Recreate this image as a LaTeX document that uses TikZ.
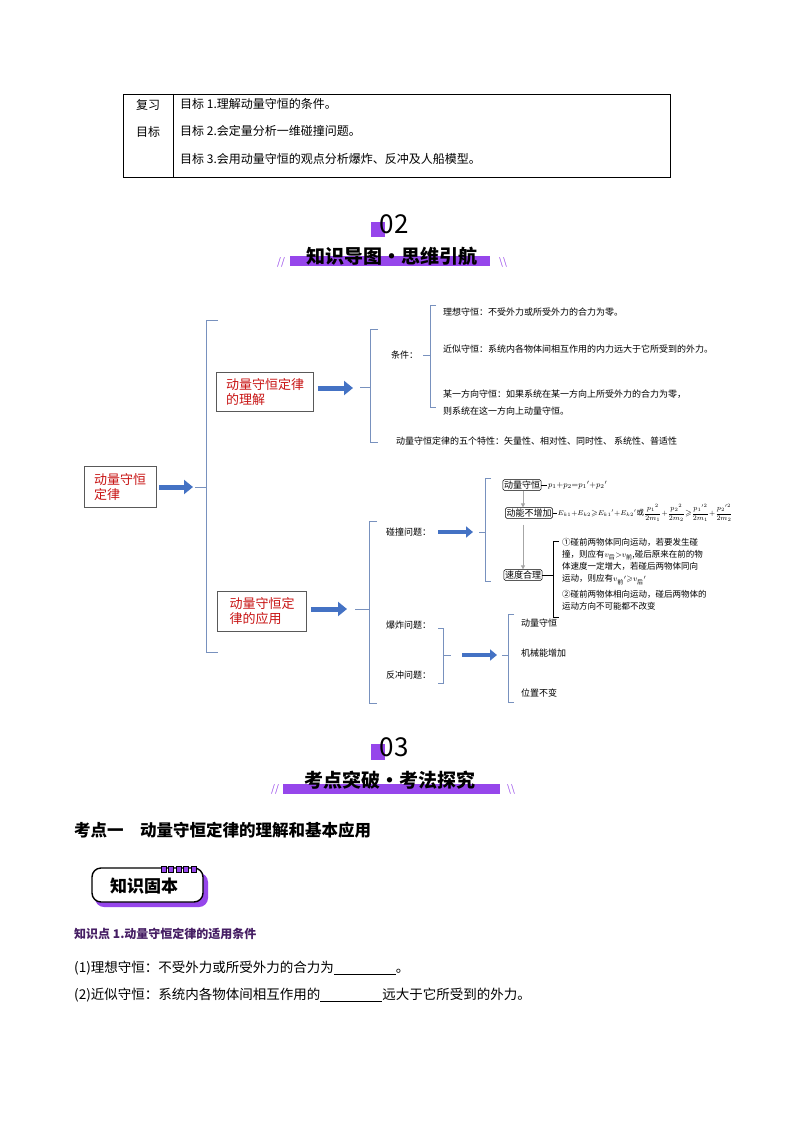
\documentclass[tikz,border=0pt]{standalone}
\usepackage{amsmath,amssymb}
\usepackage{fontspec}
\setmainfont{Noto Sans CJK SC}
\newfontfamily\cjkb{Noto Sans CJK SC Black}
\usetikzlibrary{arrows.meta,positioning}
\definecolor{brkblue}{RGB}{120,145,190}
\definecolor{arrblue}{RGB}{68,114,196}
\definecolor{vio}{RGB}{150,70,235}
\definecolor{darkvio}{RGB}{70,30,100}
\definecolor{redtxt}{RGB}{200,20,20}
\tikzset{
  brk/.style={draw=brkblue, line width=0.8pt},
  bigarrow/.style={draw=arrblue, line width=5pt, -{Triangle[length=9pt,width=14pt]}},
  grayarrow/.style={draw=gray!70, line width=0.8pt, -{Triangle[length=4pt,width=4pt]}},
  topicbox/.style={draw=gray!70!black, line width=0.6pt, fill=white, text=redtxt, font=\fontsize{13}{15}\selectfont, align=left, inner sep=3pt},
  smallbox/.style={draw=black, rounded corners=1.5pt, line width=0.5pt, font=\fontsize{9}{10}\selectfont, inner sep=1.2pt},
  note/.style={anchor=west, font=\fontsize{9}{11}\selectfont, inner sep=0pt},
  bodytxt/.style={anchor=west, font=\fontsize{12}{14}\selectfont, inner sep=0pt},
}
\begin{document}
\begin{tikzpicture}[x=1pt, y=-1pt]
\useasboundingbox[fill=white] (0,0) rectangle (794,1123);
% goals table
\draw[line width=0.7pt] (123,94) rectangle (670,177);
\draw[line width=0.7pt] (173,94) -- (173,177);
\node[bodytxt, anchor=center] (fx) at (148,105) {复习};
\node[bodytxt, anchor=center] (mb) at (148,132) {目标};
\node[bodytxt] (g1) at (180,104) {目标 1.理解动量守恒的条件。};
\node[bodytxt] (g2) at (180,131) {目标 2.会定量分析一维碰撞问题。};
\node[bodytxt] (g3) at (180,159) {目标 3.会用动量守恒的观点分析爆炸、反冲及人船模型。};
% header 02
\fill[vio] (371,222) rectangle (385,237);
\node[font=\fontsize{26}{26}\selectfont, inner sep=0pt] (n02) at (394,224) {02};
\fill[vio] (290,256) rectangle (490,266);
\node[font=\cjkb\fontsize{19}{19}\selectfont, inner sep=0pt] (t02) at (392,256) {知识导图·思维引航};
\node[text=vio, font=\fontsize{10}{10}\selectfont\itshape, inner sep=0pt] (s1) at (281,262) {//};
\node[text=vio, font=\fontsize{10}{10}\selectfont, inner sep=0pt] (s2) at (503,262) {\textbackslash\textbackslash};
% mind map root
\node[topicbox, minimum width=72pt, minimum height=41pt] (root) at (120,487) {动量守恒\\定律};
\draw[bigarrow] (root.east) ++(3,0) -- (193,487);
\draw[brk] (218,320) -- (206,320) -- (206,652) -- (218,652) (206,487) -- (195,487);
% understanding
\node[topicbox, minimum width=97pt, minimum height=39pt] (und) at (265,392) {动量守恒定律\\的理解};
\draw[bigarrow] (und.east) ++(4,-4) -- (353,388);
\draw[brk] (378,329) -- (370,329) -- (370,442) -- (378,442) (370,387) -- (360,387);
\node[note] (cond) at (391,355) {条件：};
\draw[brk] (436,305) -- (430,305) -- (430,407) -- (436,407) (430,355) -- (423,355);
\node[note] (c1) at (443,312) {理想守恒：不受外力或所受外力的合力为零。};
\node[note] (c2) at (443,349) {近似守恒：系统内各物体间相互作用的内力远大于它所受到的外力。};
\node[note] (c3) at (443,394) {某一方向守恒：如果系统在某一方向上所受外力的合力为零，};
\node[note] (c4) at (443,411) {则系统在这一方向上动量守恒。};
\node[note] (five) at (396,441) {动量守恒定律的五个特性：矢量性、相对性、同时性、 系统性、普适性};
% application
\node[topicbox, minimum width=89pt, minimum height=40pt] (app) at (262,611) {动量守恒定\\律的应用};
\draw[bigarrow] (app.east) ++(4,-2) -- (347,609);
\draw[brk] (377,521) -- (369,521) -- (369,703) -- (377,703) (369,609) -- (355,609);
\node[note] (coll) at (386,532) {碰撞问题：};
\draw[bigarrow, line width=4pt, -{Triangle[length=7pt,width=11pt]}] (438,532) -- (473,532);
\draw[brk] (491,478) -- (485,478) -- (485,581) -- (491,581) (485,532) -- (479,532);
\node[smallbox] (mc) at (522,485) {动量守恒};
\node[smallbox] (ke) at (529,513) {动能不增加};
\node[smallbox] (vr) at (523,575) {速度合理};
\draw[grayarrow] (mc.south -| 523,0) -- (ke.north -| 523,0);
\draw[grayarrow] (ke.south -| 523,0) ++(0,6) -- (vr.north -| 523,0);
\draw[line width=0.5pt] (mc.east) -- ++(6,0) node[note, font=\fontsize{8}{9}\selectfont, right=0.5pt] (f1) {$p_1{+}p_2{=}p_1{}'{+}p_2{}'$};
\draw[line width=0.5pt] (ke.east) -- ++(4,0) node[note, font=\fontsize{7.5}{8}\selectfont, right=0.5pt] (f2) {$E_{k1}{+}E_{k2}{\geqslant}E_{k1}{}'{+}E_{k2}{}'$或$\dfrac{p_1{}^2}{2m_1}{+}\dfrac{p_2{}^2}{2m_2}{\geqslant}\dfrac{p_1{}'^2}{2m_1}{+}\dfrac{p_2{}'^2}{2m_2}$};
\draw[line width=0.5pt] (vr.east) -- (553,575) (559,541) -- (553,541) -- (553,617) -- (559,617);
\node[note, font=\fontsize{8.5}{12.2}\selectfont, align=left, anchor=north west] (v1) at (562,538) {①碰前两物体同向运动，若要发生碰\\撞，则应有$v_{\text{后}}{>}v_{\text{前}}$,碰后原来在前的物\\体速度一定增大，若碰后两物体同向\\运动，则应有$v_{\text{前}}{}'{\geqslant}v_{\text{后}}{}'$};
\node[note, font=\fontsize{8.5}{12.2}\selectfont, align=left, anchor=north west] (v2) at (562,590) {②碰前两物体相向运动，碰后两物体的\\运动方向不可能都不改变};
\node[note] (expl) at (386,625) {爆炸问题：};
\node[note] (rec) at (386,675) {反冲问题：};
\draw[brk] (438,628) -- (443,628) -- (443,683) -- (438,683) (443,655) -- (451,655);
\draw[bigarrow, line width=4pt, -{Triangle[length=7pt,width=11pt]}] (462,655) -- (497,655);
\draw[brk] (514,614) -- (508,614) -- (508,702) -- (514,702) (508,655) -- (502,655);
\node[note] (r1) at (521,623) {动量守恒};
\node[note] (r2) at (521,653) {机械能增加};
\node[note] (r3) at (521,693) {位置不变};
% header 03
\fill[vio] (371,744) rectangle (385,760);
\node[font=\fontsize{26}{26}\selectfont, inner sep=0pt] (n03) at (394,747) {03};
\fill[vio] (283,784) rectangle (500,794);
\node[font=\cjkb\fontsize{19}{19}\selectfont, inner sep=0pt] (t03) at (390,780) {考点突破·考法探究};
\node[text=vio, font=\fontsize{10}{10}\selectfont\itshape, inner sep=0pt] (s3) at (275,789) {//};
\node[text=vio, font=\fontsize{10}{10}\selectfont, inner sep=0pt] (s4) at (511,789) {\textbackslash\textbackslash};
\node[anchor=west, inner sep=0pt, font=\bfseries\fontsize{16.5}{17}\selectfont] (kd) at (74,830) {考点一\quad 动量守恒定律的理解和基本应用};
% badge
\fill[vio, rounded corners=9pt] (95,873) rectangle (208,907);
\draw[line width=1.4pt, fill=white, rounded corners=9pt] (92,868) rectangle (203,902);
\foreach \i in {0,...,4}{
  \draw[line width=1pt, fill=vio] (161+\i*7.5,866) rectangle (166+\i*7.5,872);
}
\node[font=\cjkb\fontsize{17}{17}\selectfont, inner sep=0pt] (zs) at (144,886) {知识固本};
\node[anchor=west, inner sep=0pt, text=darkvio, font=\bfseries\fontsize{12}{12}\selectfont] (zd) at (74,934) {知识点 1.动量守恒定律的适用条件};
\node[bodytxt, font=\fontsize{13.5}{14}\selectfont] (p1) at (74,968) {(1)理想守恒：不受外力或所受外力的合力为\underline{\hspace{62pt}}。};
\node[bodytxt, font=\fontsize{13.5}{14}\selectfont] (p2) at (74,995) {(2)近似守恒：系统内各物体间相互作用的\underline{\hspace{62pt}}远大于它所受到的外力。};
\end{tikzpicture}
\end{document}
